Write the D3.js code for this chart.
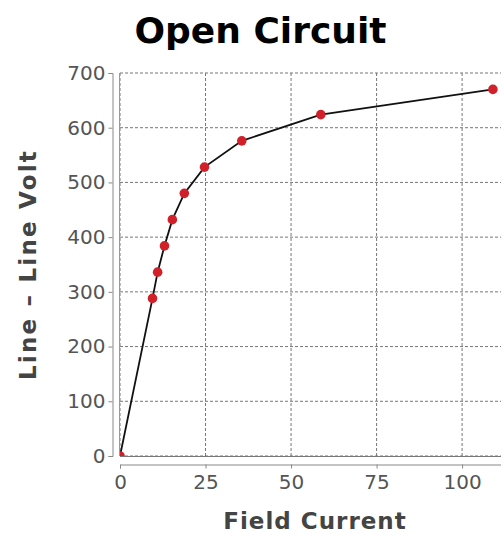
<!DOCTYPE html>
<html>
<head>
<meta charset="utf-8">
<script src="https://cdn.jsdelivr.net/npm/d3@7"></script>
<style>
  body { margin: 0; background: #fff; }
  svg { display: block; font-family: "DejaVu Sans", sans-serif; }
</style>
</head>
<body>
<div id="chart"></div>
<script>
// field current (A) vs line-line voltage (V)
const fieldCurrent = [0, 9.5, 11, 13, 15.3, 18.8, 24.7, 35.6, 58.7, 109]
const lineVolt = [0, 288, 336, 384, 432, 480, 528, 576, 624, 670]
const xTicks = [0, 25, 50, 75, 100]
const yTicks = [0, 100, 200, 300, 400, 500, 600, 700]

const data = fieldCurrent.map((d, i) => ({x: d, y: lineVolt[i]}))

const width = 501, height = 535
const margin = {top: 73, right: -9, bottom: 79, left: 120}

const svg = d3.select('#chart')
  .append('svg')
  .attr('width', width)
  .attr('height', height)

const x = d3.scaleLinear()
  .domain([0, 114])
  .range([margin.left, width - margin.right])

const y = d3.scaleLinear()
  .domain([0, 700])
  .range([height - margin.bottom, margin.top])

// clip marks to plot area
svg.append('clipPath')
  .attr('id', 'plot-clip')
  .append('rect')
  .attr('x', x(0)).attr('y', y(700) - 6)
  .attr('width', x(114) - x(0))
  .attr('height', y(0) - y(700) + 6)

// grid
svg.append('g')
  .selectAll('line')
  .data(xTicks)
  .join('line')
  .attr('x1', d => x(d)).attr('x2', d => x(d))
  .attr('y1', y(700)).attr('y2', y(0))
  .attr('stroke', '#777')
  .attr('stroke-width', 1)
  .attr('stroke-dasharray', '3,2')

svg.append('g')
  .selectAll('line')
  .data(yTicks)
  .join('line')
  .attr('x1', x(0)).attr('x2', x(114))
  .attr('y1', d => y(d)).attr('y2', d => y(d))
  .attr('stroke', '#777')
  .attr('stroke-width', 1)
  .attr('stroke-dasharray', '3,2')

// solid edges at zero
svg.append('line')
  .attr('x1', x(0)).attr('x2', x(114))
  .attr('y1', y(0) + 0.5).attr('y2', y(0) + 0.5)
  .attr('stroke', '#777')
svg.append('line')
  .attr('x1', x(0) - 0.5).attr('x2', x(0) - 0.5)
  .attr('y1', y(700)).attr('y2', y(0))
  .attr('stroke', '#999')

// axes
const xAxis = svg.append('g')
  .attr('transform', `translate(0,${y(0) + 8.5})`)
  .call(d3.axisBottom(x).tickValues(xTicks).tickSize(4).tickPadding(6))
const yAxis = svg.append('g')
  .attr('transform', `translate(${x(0) - 7.5},0)`)
  .call(d3.axisLeft(y).tickValues(yTicks).tickSize(4).tickPadding(3))

;[xAxis, yAxis].forEach(g => {
  g.select('.domain').attr('stroke', '#888')
  g.selectAll('.tick line').attr('stroke', '#888')
  g.selectAll('.tick text')
    .attr('fill', '#555')
    .style('font-size', '20px')
    .style('font-family', '"DejaVu Sans", sans-serif')
})

// line and points
const marks = svg.append('g').attr('clip-path', 'url(#plot-clip)')

marks.append('path')
  .datum(data)
  .attr('fill', 'none')
  .attr('stroke', '#111')
  .attr('stroke-width', 1.8)
  .attr('d', d3.line().x(d => x(d.x)).y(d => y(d.y)))

marks.append('g')
  .selectAll('circle')
  .data(data)
  .join('circle')
  .attr('cx', d => x(d.x))
  .attr('cy', d => y(d.y))
  .attr('r', 4.8)
  .attr('fill', '#d0202a')

// titles
svg.append('text')
  .attr('x', 260.5)
  .attr('y', 43)
  .attr('text-anchor', 'middle')
  .style('font-size', '36px')
  .style('font-weight', 'bold')
  .attr('fill', '#000')
  .text('Open Circuit')

svg.append('text')
  .attr('x', (x(0) + x(114)) / 2)
  .attr('y', 529)
  .attr('text-anchor', 'middle')
  .style('font-size', '23px')
  .style('font-weight', 'bold')
  .style('letter-spacing', '1px')
  .attr('fill', '#444')
  .text('Field Current')

svg.append('text')
  .attr('transform', `translate(36,${(y(0) + y(700)) / 2}) rotate(-90)`)
  .attr('text-anchor', 'middle')
  .style('font-size', '23px')
  .style('font-weight', 'bold')
  .style('letter-spacing', '2.2px')
  .attr('fill', '#444')
  .text('Line – Line Volt')
</script>
</body>
</html>
